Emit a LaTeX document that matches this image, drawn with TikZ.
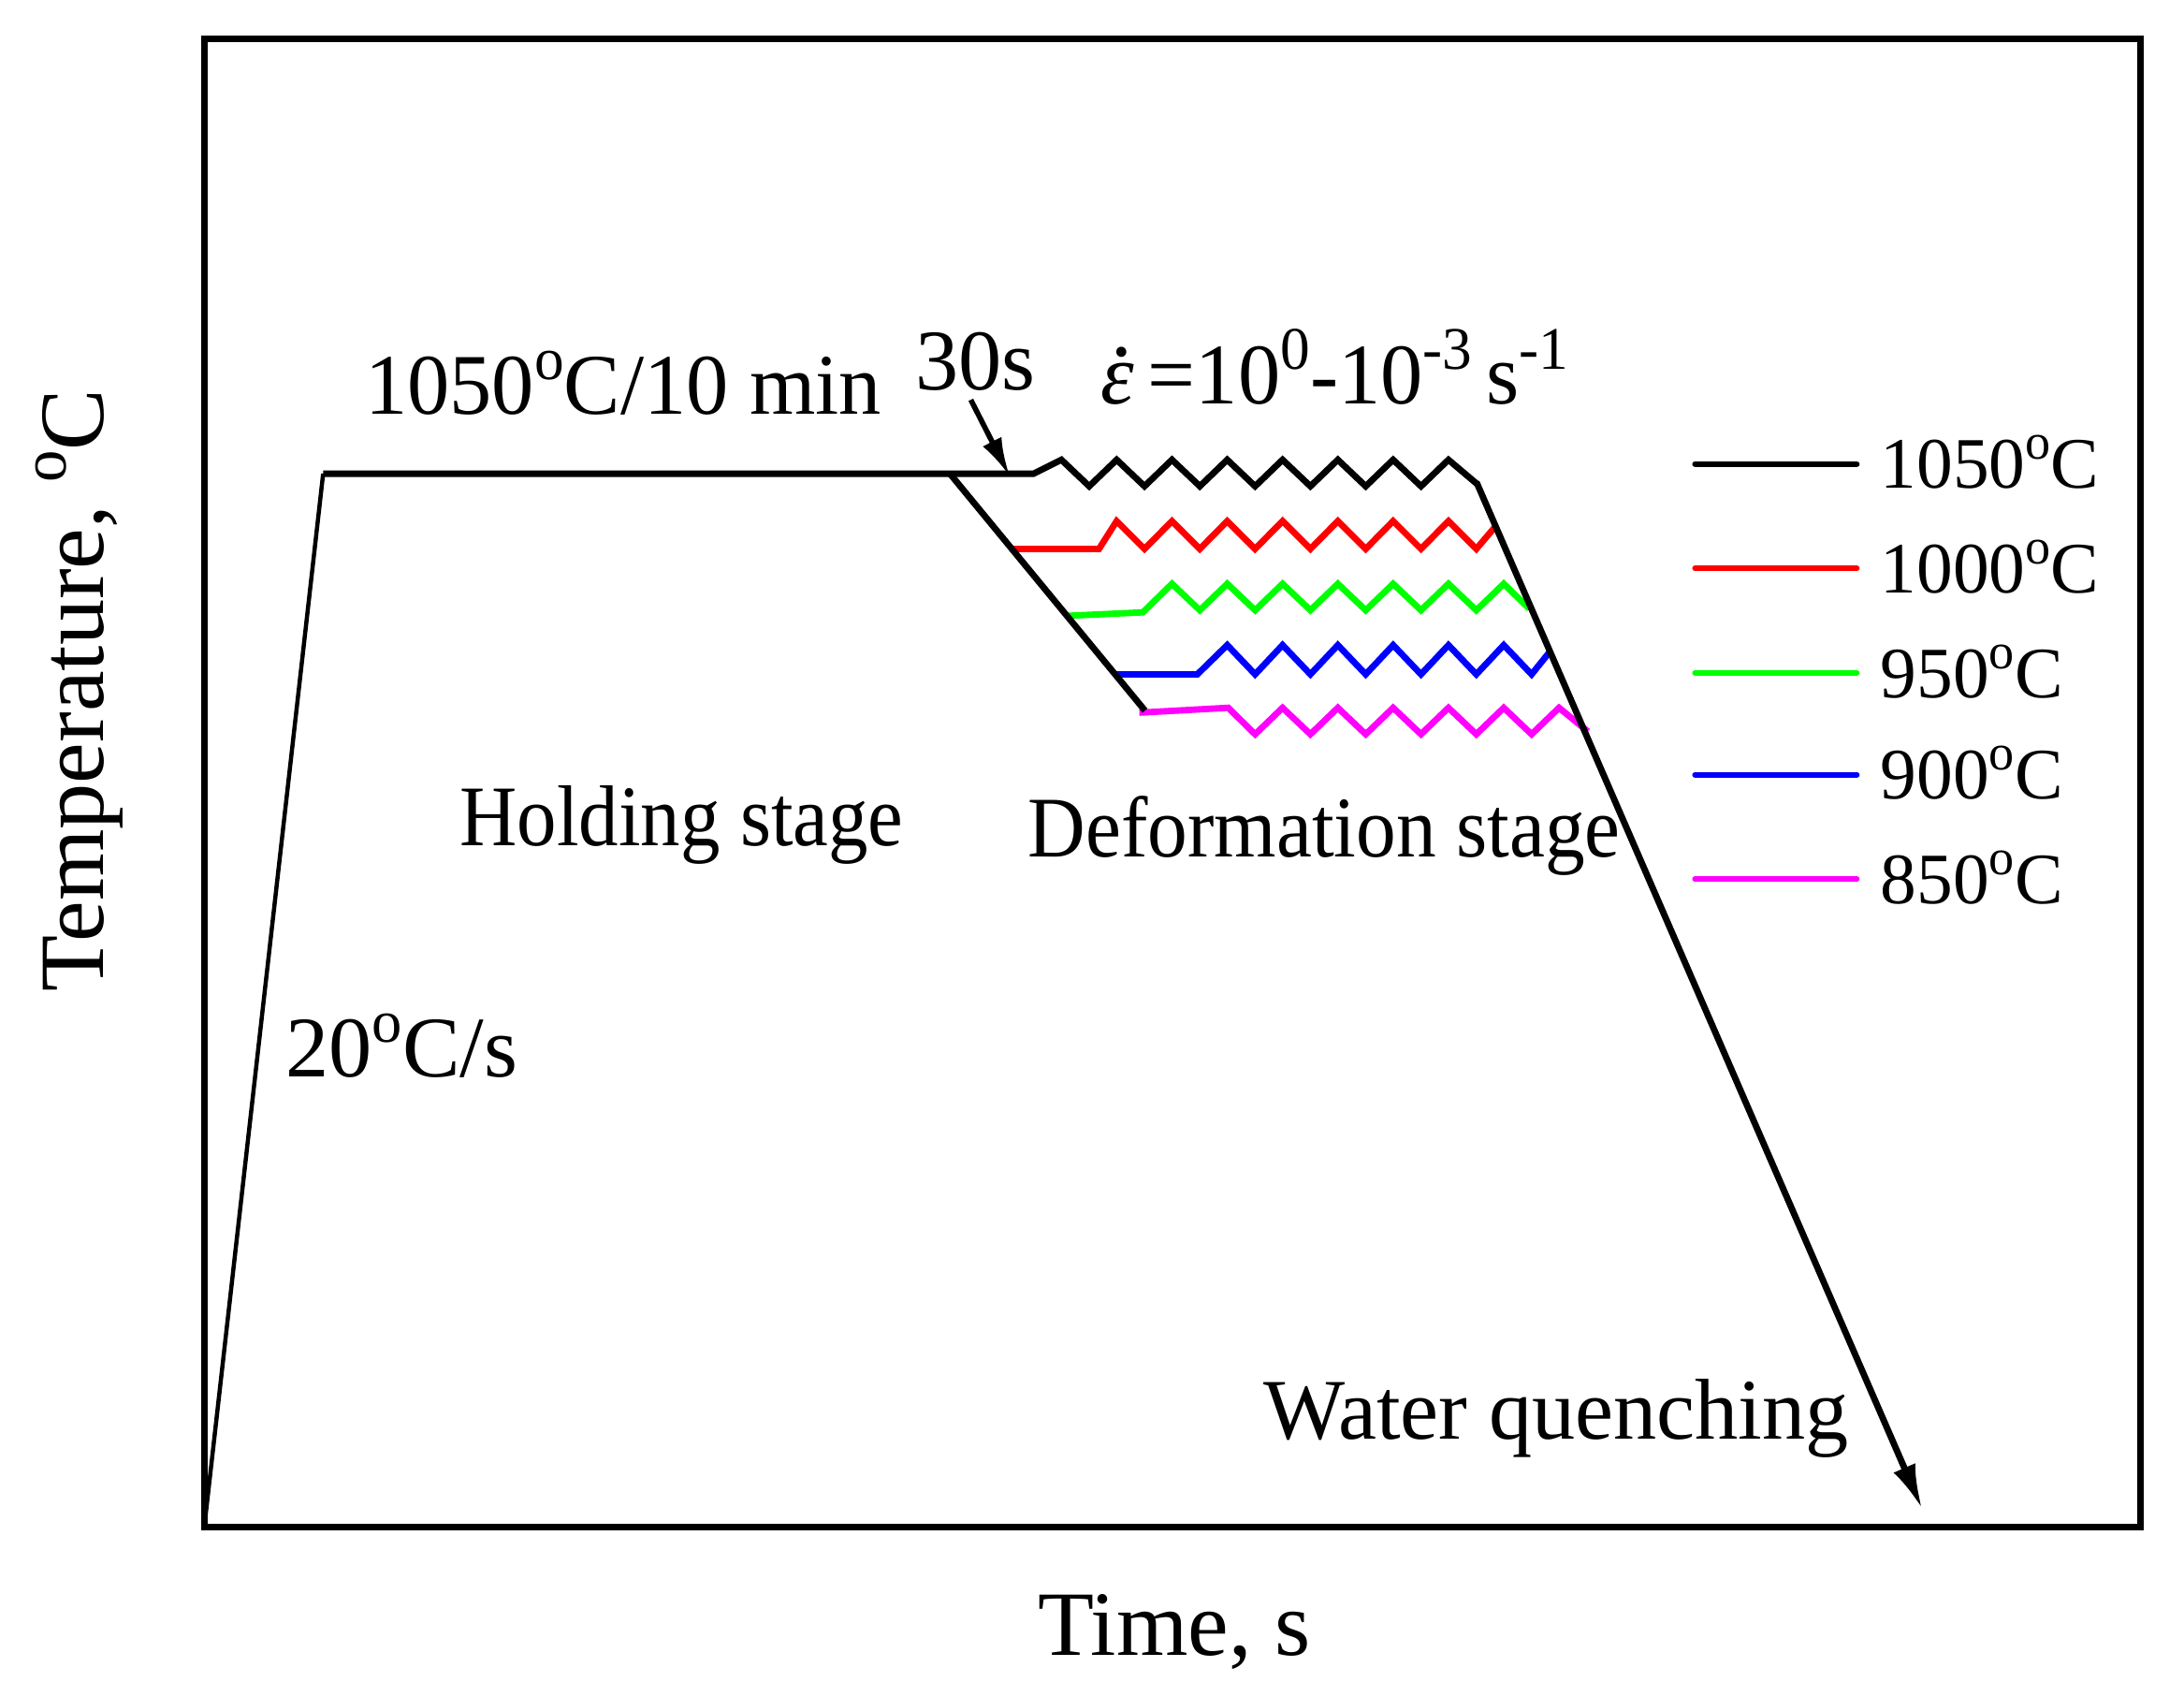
\documentclass[tikz,border=0pt]{standalone}
\usepackage{fontspec}
\setmainfont{Liberation Serif}
\usetikzlibrary{arrows.meta}
\newcommand\sups[1]{\raisebox{0.40em}{\scalebox{0.7}{#1}}}
\newcommand\dg{\sups{o}}
\newcommand\epsdot{\makebox[0pt][l]{\hspace{0.13em}\raisebox{0.55em}{.}}{\itshape ε}}
\definecolor{cred}{RGB}{255,0,0}
\definecolor{cgreen}{RGB}{0,255,0}
\definecolor{cblue}{RGB}{0,0,255}
\definecolor{cmag}{RGB}{255,0,255}
\begin{document}
\begin{tikzpicture}[x=1pt,y=-1pt,
  txt/.style={inner sep=0pt,anchor=base west,font=\fontsize{62}{74}\selectfont},
  axtxt/.style={inner sep=0pt,anchor=base west,font=\fontsize{66}{78}\selectfont},
  legtxt/.style={inner sep=0pt,anchor=base west,font=\fontsize{52}{62}\selectfont},
  curve/.style={line width=4.6pt},
  legline/.style={line width=4.2pt,line cap=round},
  frame/.style={line width=4.6pt}]
\useasboundingbox (0,0) rectangle (1568,1207);
\fill[white] (0,0) rectangle (1568,1207);
% frame
\draw[frame] (147,28) rectangle (1537,1096);
% coloured deformation curves
\draw[curve,cred] (727,394) -- (789,394) -- (801.7,374) -- (821.7,394) -- (841.4,374) -- (861.4,394) -- (881.1,374) -- (901.1,394) -- (920.8,374) -- (940.8,394) -- (960.5,374) -- (980.5,394) -- (1000.2,374) -- (1020.2,394) -- (1039.9,374) -- (1059.9,394) -- (1073.5,378);
\draw[curve,cgreen] (766,442) -- (820.5,439.5) -- (841.4,419) -- (861.4,438) -- (881.1,419) -- (901.1,438) -- (920.8,419) -- (940.8,438) -- (960.5,419) -- (980.5,438) -- (1000.2,419) -- (1020.2,438) -- (1039.9,419) -- (1059.9,438) -- (1079.6,419) -- (1098,437);
\draw[curve,cblue] (801,484) -- (859.6,484) -- (881.1,463) -- (901.1,484) -- (920.8,463) -- (940.8,484) -- (960.5,463) -- (980.5,484) -- (1000.2,463) -- (1020.2,484) -- (1039.9,463) -- (1059.9,484) -- (1079.6,463) -- (1099.6,484) -- (1112.5,468);
\draw[curve,cmag] (818,511.5) -- (881.8,508) -- (901.1,527) -- (920.8,508) -- (940.8,527) -- (960.5,508) -- (980.5,527) -- (1000.2,508) -- (1020.2,527) -- (1039.9,508) -- (1059.9,527) -- (1079.6,508) -- (1099.6,527) -- (1119.3,508) -- (1140,525);
% black schedule
\draw[line width=3pt] (147,1093) -- (232,340);
\draw[curve] (232,340) -- (742,340) -- (762,330) -- (782,349) -- (801.7,330) -- (821.7,349) -- (841.4,330) -- (861.4,349) -- (881.1,330) -- (901.1,349) -- (920.8,330) -- (940.8,349) -- (960.5,330) -- (980.5,349) -- (1000.2,330) -- (1020.2,349) -- (1039.9,330) -- (1060,347);
\draw[curve] (682,340) -- (822,510);
\coordinate (qs) at (1060,346);
\coordinate (qe) at (1380,1083);
\draw[curve,-{Latex[length=32pt,width=17pt]}] (qs) -- (qe);
\coordinate (as) at (697,287);
\coordinate (ae) at (725,342);
\draw[line width=3.8pt,-{Latex[length=28pt,width=15pt]}] (as) -- (ae);
% texts
\node[txt,xscale=0.98] (hold) at (262,297) {1050\dg C/10 min};
\node[txt] (t30) at (657,280) {30s};
\node[txt,xscale=0.98] (rate) at (790,290) {\epsdot\,=10\sups{0}-10\sups{-3}\,s\sups{-1}};
\node[txt,xscale=0.92] (hs) at (330,607) {Holding stage};
\node[txt,xscale=0.925] (ds) at (738,615) {Deformation stage};
\node[txt] (r20) at (205,773) {20\dg C/s};
\node[txt] (wq) at (907,1033) {Water quenching};
\node[axtxt] (time) at (745,1188) {Time, s};
\node[axtxt,rotate=90] (temp) at (74,712) {Temperature, \dg C};
% legend
\draw[legline,black] (1217,333) -- (1333,333);
\draw[legline,cred] (1217,408) -- (1333,408);
\draw[legline,cgreen] (1217,483) -- (1333,483);
\draw[legline,cblue] (1217,556) -- (1333,556);
\draw[legline,cmag] (1217,631) -- (1333,631);
\node[legtxt] (l1) at (1350,350.5) {1050\dg C};
\node[legtxt] (l2) at (1350,425.5) {1000\dg C};
\node[legtxt] (l3) at (1350,500.5) {950\dg C};
\node[legtxt] (l4) at (1350,573.5) {900\dg C};
\node[legtxt] (l5) at (1350,648.5) {850\dg C};
\end{tikzpicture}
\end{document}
